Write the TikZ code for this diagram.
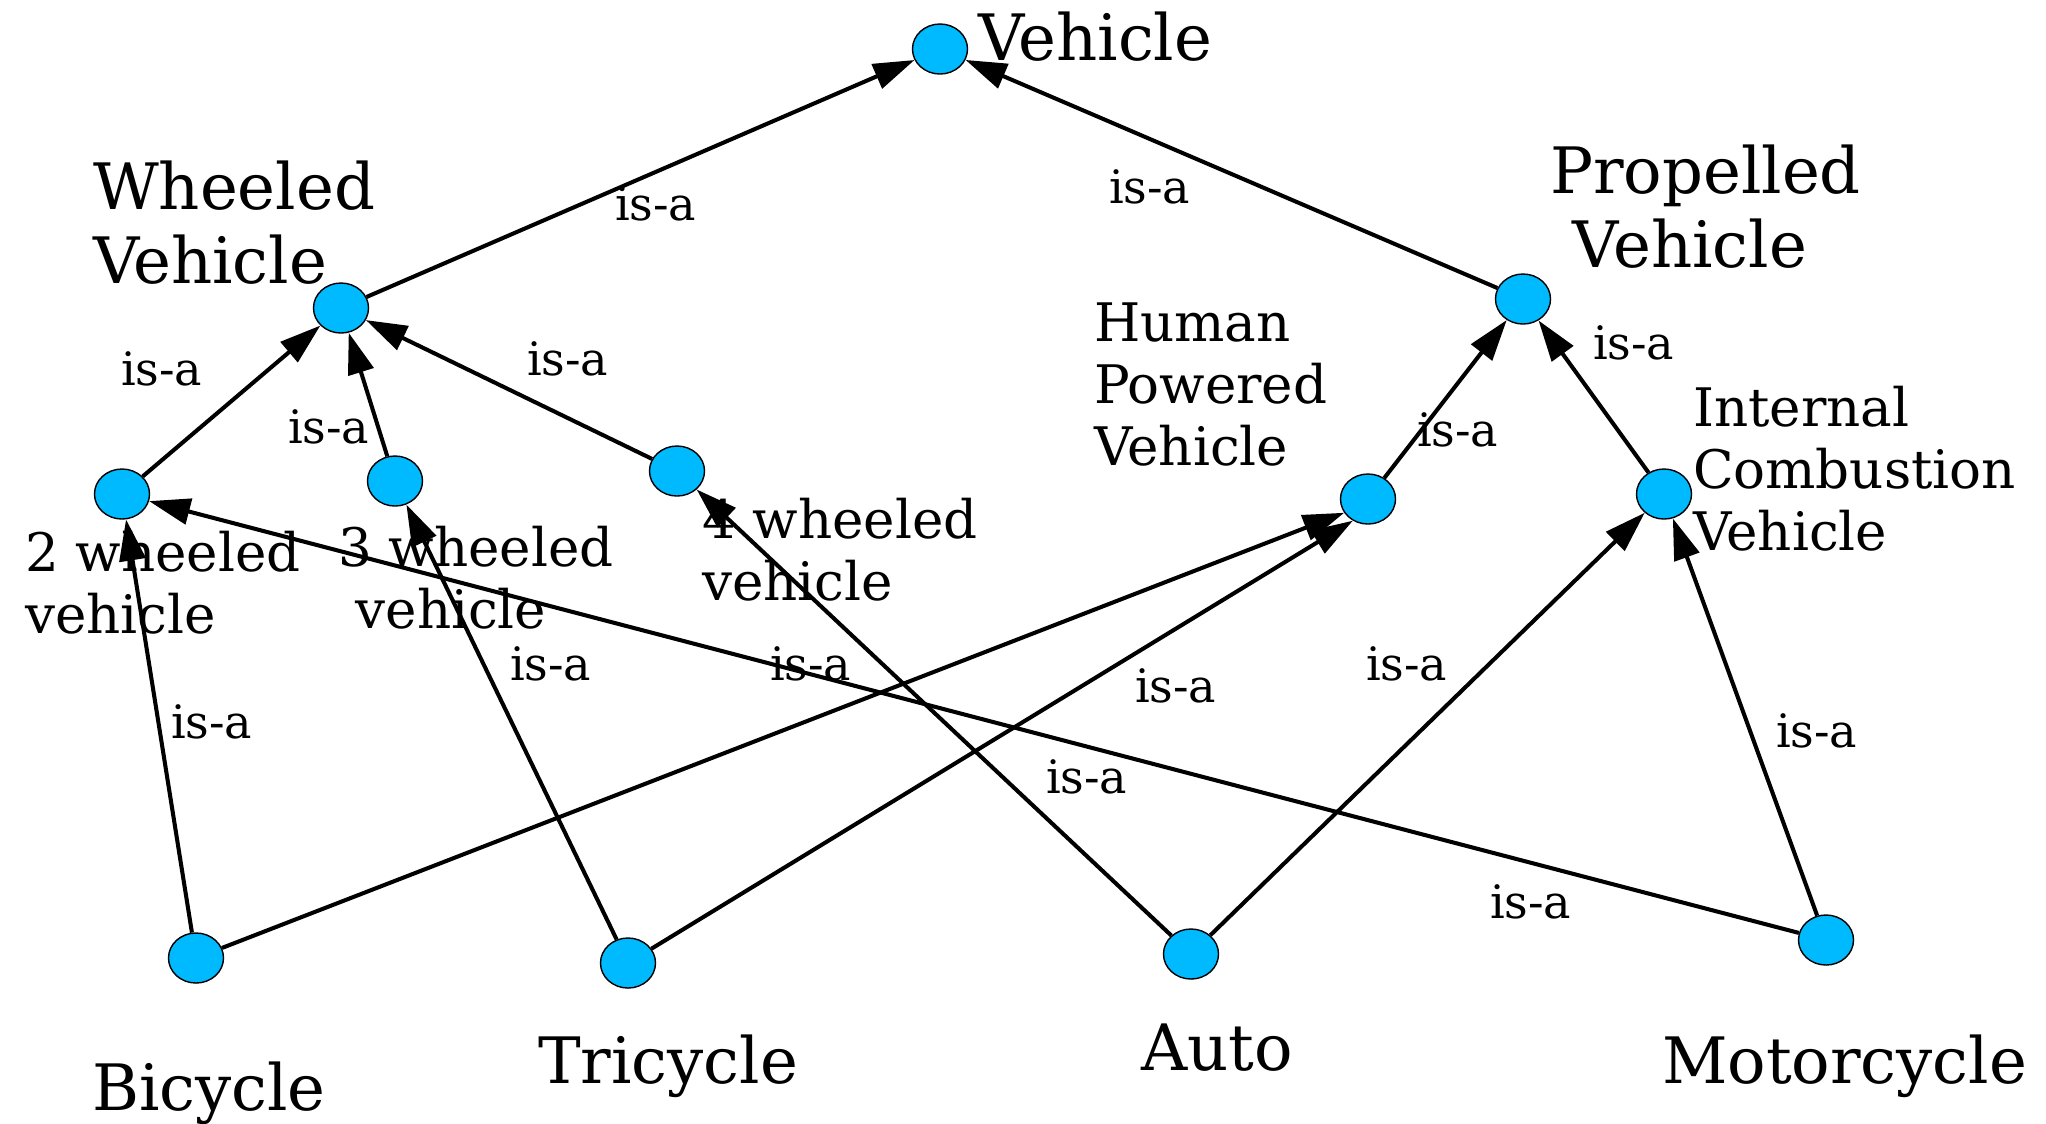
\documentclass[tikz,border=0pt]{standalone}
\usepackage{fontspec}
\setmainfont{DejaVu Serif}
\usepackage{tikz}
\usetikzlibrary{arrows.meta,shapes.geometric}
\usetikzlibrary{positioning}
\definecolor{conceptblue}{RGB}{0,186,255}
\tikzset{
    concept/.style={
      ellipse,
      draw=black, line width=0.4pt,
      fill=conceptblue,
      minimum width=0.55cm,
      minimum height=0.5cm,
      inner sep=0pt,
    },
    bigtag/.style={
      anchor=base west, inner sep=0pt, align=left, xshift=-0.04cm,
      font=\fontsize{18.2pt}{20.8pt}\selectfont,
    },
    midtag/.style={
      anchor=base west, inner sep=0pt, align=left, xshift=-0.04cm,
      font=\fontsize{15.1pt}{17.5pt}\selectfont,
    },
    isa/.style={
      anchor=base west, inner sep=0pt, xshift=-0.03cm,
      font=\fontsize{13.1pt}{15pt}\selectfont,
    },
}

\begin{document}
\begin{tikzpicture}[x=0.01cm,y=-0.01cm,->,>={Triangle[length=11.7pt,width=7.4pt]},line width=1.15pt]

    \useasboundingbox (0,0) rectangle (2046,1123);

    % concepts
    \node[concept] (Vehicle) at (940,49) {};
    \node[concept] (Wheeled) at (341,308) {};
    \node[concept] (Propelled) at (1523,299) {};
    \node[concept] (TwoWheeled) at (122,494) {};
    \node[concept] (ThreeWheeled) at (395,481) {};
    \node[concept] (FourWheeled) at (677,471) {};
    \node[concept] (HumanPowered) at (1368,499) {};
    \node[concept] (Combustion) at (1664,494) {};
    \node[concept] (Bicycle) at (196,958) {};
    \node[concept] (Tricycle) at (628,963) {};
    \node[concept] (Auto) at (1191,954) {};
    \node[concept] (Motorcycle) at (1826,940) {};

    % names (base = last line)
    \node[bigtag] (VehicleTag) at (980,60) {Vehicle};
    \node[bigtag] (WheeledTag) at (95,283) {Wheeled\\Vehicle};
    \node[bigtag] (PropelledTag) at (1552,267) {Propelled\\\hspace*{6.5pt}Vehicle};
    \node[midtag] (HumanTag) at (1096,465) {Human\\Powered\\Vehicle};
    \node[midtag] (CombustionTag) at (1695,550) {Internal\\Combustion\\Vehicle};
    \node[midtag] (TwoTag) at (27,633) {2 wheeled\\vehicle};
    \node[midtag] (ThreeTag) at (340,628) {3 wheeled\\\hspace*{5pt}vehicle};
    \node[midtag] (FourTag) at (704,600) {4 wheeled\\vehicle};
    \node[bigtag] (BicycleTag) at (94,1110) {Bicycle};
    \node[bigtag] (TricycleTag) at (540,1083) {Tricycle};
    \node[bigtag] (AutoTag) at (1143,1070) {Auto};
    \node[bigtag] (MotorcycleTag) at (1664,1083) {Motorcycle};

    % is-a labels
    \node[isa] (isa1) at (616,220) {is-a};
    \node[isa] (isa2) at (1110,203) {is-a};
    \node[isa] (isa3) at (122,385) {is-a};
    \node[isa] (isa4) at (289,443) {is-a};
    \node[isa] (isa5) at (528,375) {is-a};
    \node[isa] (isa6) at (1418,446) {is-a};
    \node[isa] (isa7) at (1594,359) {is-a};
    \node[isa] (isa8) at (172,738) {is-a};
    \node[isa] (isa9) at (511,680) {is-a};
    \node[isa] (isa10) at (771,680) {is-a};
    \node[isa] (isa11) at (1136,702) {is-a};
    \node[isa] (isa12) at (1047,793) {is-a};
    \node[isa] (isa13) at (1367,680) {is-a};
    \node[isa] (isa14) at (1777,747) {is-a};
    \node[isa] (isa15) at (1491,918) {is-a};

    \path
    (Wheeled) edge (Vehicle)
    (Propelled) edge (Vehicle)
    (TwoWheeled) edge (Wheeled)
    (ThreeWheeled) edge (Wheeled)
    (FourWheeled) edge (Wheeled)
    (HumanPowered) edge (Propelled)
    (Combustion) edge (Propelled)
    (Bicycle) edge (TwoWheeled)
    (Bicycle) edge (HumanPowered.210)
    (Tricycle) edge (ThreeWheeled)
    (Tricycle) edge (HumanPowered.235)
    (Auto) edge (FourWheeled)
    (Auto) edge (Combustion)
    (Motorcycle) edge (TwoWheeled)
    (Motorcycle) edge (Combustion)
    ;
\end{tikzpicture}
\end{document}
